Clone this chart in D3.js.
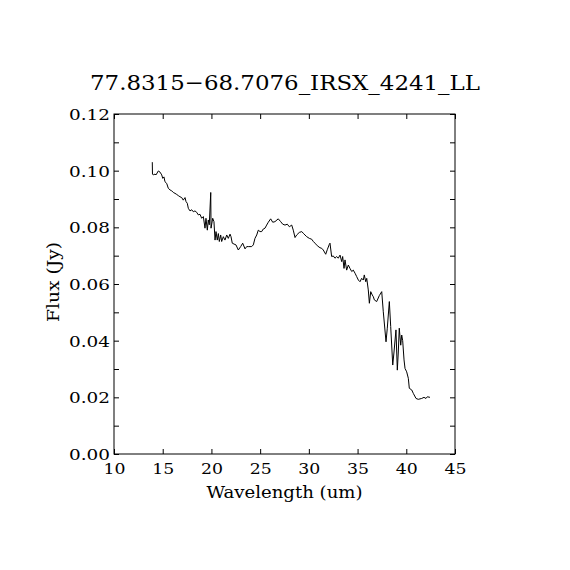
<!DOCTYPE html>
<html>
<head>
<meta charset="utf-8">
<script src="https://cdn.jsdelivr.net/npm/d3@7"></script>
<style>
  body { margin: 0; background: #fff; }
  svg { display: block; }
  text { font-family: "DejaVu Serif", "Liberation Serif", serif; fill: #000; }
</style>
</head>
<body>
<svg id="chart" width="570" height="570"></svg>
<script>
// Spectrum
const wavelength = [
  13.93, 13.95, 14.03, 14.21, 14.31, 14.55, 14.72, 14.90, 15.00, 15.13,
  15.23, 15.41, 15.57, 15.75, 15.92, 16.09, 16.26, 16.44, 16.60, 16.77,
  16.95, 17.11, 17.29, 17.39, 17.52, 17.63, 17.80, 17.98, 18.14, 18.31,
  18.49, 18.65, 18.83, 19.00, 19.17, 19.34, 19.44, 19.58, 19.68, 19.78,
  19.93, 19.96, 20.13, 20.26, 20.37, 20.47, 20.60, 20.71, 20.81, 20.95,
  21.05, 21.22, 21.39, 21.57, 21.73, 21.91, 22.01, 22.14, 22.32, 22.52,
  22.76, 23.00, 23.21, 23.45, 23.62, 23.78, 24.13, 24.30, 24.47, 24.65,
  24.81, 24.99, 25.16, 25.32, 25.50, 25.67, 25.84, 26.08, 26.29, 26.52,
  26.86, 27.11, 27.32, 27.55, 27.79, 28.00, 28.24, 28.40, 28.58, 28.75,
  29.02, 29.27, 29.43, 29.60, 29.78, 30.05, 30.29, 30.46, 30.63, 30.87,
  31.14, 31.32, 31.48, 31.73, 31.89, 32.10, 32.17, 32.34, 32.51, 32.68,
  32.86, 33.02, 33.20, 33.37, 33.47, 33.61, 33.71, 33.88, 34.05, 34.22,
  34.40, 34.56, 34.74, 34.91, 35.08, 35.25, 35.42, 35.59, 35.69, 35.84,
  35.94, 36.10, 36.21, 36.35, 36.51, 36.62, 36.72, 36.96, 37.23, 37.48,
  37.64, 37.92, 38.05, 38.26, 38.40, 38.61, 38.74, 38.94, 39.08, 39.18,
  39.28, 39.43, 39.53, 39.63, 39.77, 39.87, 40.04, 40.21, 40.31, 40.56,
  40.72, 41.00, 41.23, 41.58, 41.82, 42.02, 42.16, 42.43
];
const flux = [
  0.1030, 0.0988, 0.0985, 0.0988, 0.0985, 0.0999, 0.0995, 0.0985, 0.0973, 0.0978,
  0.0961, 0.0955, 0.0938, 0.0932, 0.0929, 0.0923, 0.0920, 0.0916, 0.0912, 0.0908,
  0.0905, 0.0896, 0.0905, 0.0891, 0.0885, 0.0867, 0.0858, 0.0862, 0.0855, 0.0858,
  0.0853, 0.0844, 0.0846, 0.0832, 0.0838, 0.0797, 0.0832, 0.0790, 0.0826, 0.0809,
  0.0923, 0.0797, 0.0832, 0.0820, 0.0755, 0.0785, 0.0755, 0.0778, 0.0750, 0.0773,
  0.0750, 0.0767, 0.0755, 0.0773, 0.0761, 0.0776, 0.0767, 0.0744, 0.0741, 0.0738,
  0.0720, 0.0732, 0.0744, 0.0724, 0.0732, 0.0732, 0.0732, 0.0738, 0.0761, 0.0773,
  0.0790, 0.0785, 0.0785, 0.0794, 0.0797, 0.0808, 0.0818, 0.0830, 0.0818, 0.0820,
  0.0830, 0.0820, 0.0811, 0.0808, 0.0811, 0.0802, 0.0808, 0.0790, 0.0764, 0.0773,
  0.0782, 0.0785, 0.0779, 0.0773, 0.0767, 0.0761, 0.0758, 0.0750, 0.0744, 0.0735,
  0.0728, 0.0726, 0.0720, 0.0705, 0.0721, 0.0740, 0.0744, 0.0697, 0.0699, 0.0691,
  0.0697, 0.0691, 0.0702, 0.0679, 0.0697, 0.0655, 0.0685, 0.0649, 0.0667, 0.0655,
  0.0644, 0.0649, 0.0638, 0.0626, 0.0614, 0.0608, 0.0620, 0.0614, 0.0632, 0.0608,
  0.0620, 0.0579, 0.0532, 0.0573, 0.0561, 0.0555, 0.0544, 0.0538, 0.0559, 0.0573,
  0.0502, 0.0396, 0.0444, 0.0538, 0.0450, 0.0314, 0.0360, 0.0438, 0.0296, 0.0360,
  0.0444, 0.0384, 0.0420, 0.0400, 0.0332, 0.0302, 0.0290, 0.0267, 0.0232, 0.0226,
  0.0214, 0.0196, 0.0193, 0.0196, 0.0200, 0.0196, 0.0202, 0.0200
];

const xTicks = [10, 15, 20, 25, 30, 35, 40, 45];
const yMajorTicks = [0, 0.02, 0.04, 0.06, 0.08, 0.10, 0.12];
const yMinorTicks = [0.01, 0.03, 0.05, 0.07, 0.09, 0.11];

const titleText = '77.8315\u221268.7076_IRSX_4241_LL';
const xLabel = 'Wavelength (um)';
const yLabel = 'Flux (Jy)';

const margin = {left: 114, top: 114, right: 115, bottom: 116},
    width = 570 - margin.left - margin.right,
    height = 570 - margin.top - margin.bottom;

const svg = d3.select('#chart');
const g = svg.append('g').attr('transform', `translate(${margin.left},${margin.top})`);

const x = d3.scaleLinear().domain([10, 45]).range([0, width]);
const y = d3.scaleLinear().domain([0, 0.12]).range([height, 0]);

const tickLen = 5;

// axes: ticks point inward, mirrored on all four sides
function styleAxis(sel) {
  sel.select('.domain').remove();
  sel.selectAll('.tick line').attr('stroke', '#000').attr('stroke-width', 1);
}

// the plotting font is wide, so stretch glyphs to the reference widths
g.append('g')
    .attr('transform', `translate(0,${height})`)
    .call(d3.axisBottom(x).tickValues(xTicks).tickSize(-tickLen).tickFormat(d3.format('d')))
    .call(styleAxis)
    .call(a => a.selectAll('.tick text')
        .attr('y', 9).attr('dy', '0.71em')
        .attr('font-size', 15).attr('font-family', '"DejaVu Serif", serif')
        .attr('textLength', 22).attr('lengthAdjust', 'spacingAndGlyphs'));

g.append('g')
    .call(d3.axisTop(x).tickValues(xTicks).tickSize(-tickLen).tickFormat(''))
    .call(styleAxis);

g.append('g')
    .call(d3.axisLeft(y).tickValues(yMajorTicks.concat(yMinorTicks)).tickSize(-tickLen)
        .tickFormat(d => yMajorTicks.includes(d) ? d3.format('.2f')(d) : ''))
    .call(styleAxis)
    .call(a => a.selectAll('.tick text')
        .filter(d => yMajorTicks.includes(d))
        .attr('x', -4).attr('dy', '0.36em')
        .attr('font-size', 15).attr('font-family', '"DejaVu Serif", serif')
        .attr('textLength', 41).attr('lengthAdjust', 'spacingAndGlyphs'));

g.append('g')
    .attr('transform', `translate(${width},0)`)
    .call(d3.axisRight(y).tickValues(yMajorTicks.concat(yMinorTicks)).tickSize(-tickLen).tickFormat(''))
    .call(styleAxis);

// frame
g.append('rect')
    .attr('width', width).attr('height', height)
    .attr('fill', 'none').attr('stroke', '#000').attr('stroke-width', 1);

// spectrum
const points = wavelength.map((w, i) => [w, flux[i]]);
g.append('path')
    .datum(points)
    .attr('fill', 'none')
    .attr('stroke', '#000')
    .attr('stroke-width', 1)
    .attr('d', d3.line().x(d => x(d[0])).y(d => y(d[1])));

// labels
svg.append('text')
    .attr('x', 285).attr('y', 90)
    .attr('text-anchor', 'middle')
    .attr('font-size', 21)
    .attr('textLength', 390).attr('lengthAdjust', 'spacingAndGlyphs')
    .text(titleText);

svg.append('text')
    .attr('x', margin.left + width / 2).attr('y', 498)
    .attr('text-anchor', 'middle')
    .attr('font-size', 16)
    .attr('textLength', 156).attr('lengthAdjust', 'spacingAndGlyphs')
    .text(xLabel);

svg.append('text')
    .attr('transform', `translate(59,${margin.top + height / 2 - 2}) rotate(-90)`)
    .attr('text-anchor', 'middle')
    .attr('font-size', 16)
    .attr('textLength', 80).attr('lengthAdjust', 'spacingAndGlyphs')
    .text(yLabel);
</script>
</body>
</html>
